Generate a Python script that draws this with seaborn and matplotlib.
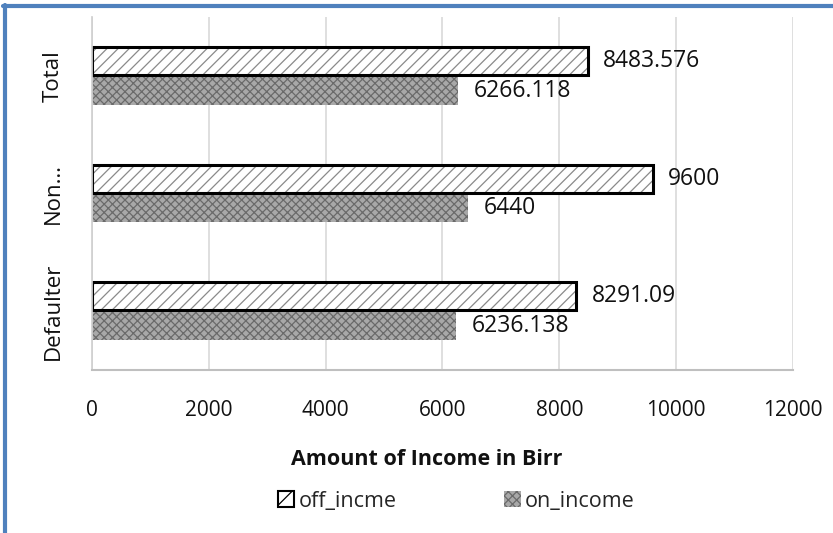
import matplotlib
matplotlib.use("Agg")
import matplotlib.pyplot as plt
from matplotlib.patches import Patch, Rectangle
from matplotlib.lines import Line2D
import seaborn as sns
import pandas as pd

categories = ["Total", "Non…", "Defaulter"]
series_names = ["off_incme", "on_income"]
off_incme = [8483.576, 9600, 8291.09]
on_income = [6266.118, 6440, 6236.138]
value_labels = {"off_incme": ["8483.576", "9600", "8291.09"],
                "on_income": ["6266.118", "6440", "6236.138"]}
x_ticks = [0, 2000, 4000, 6000, 8000, 10000, 12000]

sns.set_theme(style="white")
plt.rcParams["font.family"] = ["Open Sans", "DejaVu Sans"]
plt.rcParams["hatch.linewidth"] = 0.9

df = pd.DataFrame({
    "group": categories * 2,
    "series": [series_names[0]] * 3 + [series_names[1]] * 3,
    "value": off_incme + on_income,
})

fig = plt.figure(figsize=(8.33, 5.33), dpi=100)
ax = fig.add_axes([0.1104, 0.306, 0.8416, 0.662])

sns.barplot(data=df, y="group", x="value", hue="series", order=categories,
            hue_order=series_names, orient="h", width=0.5, gap=0.05,
            ax=ax, legend=False, errorbar=None)

off_style = dict(facecolor="white", edgecolor="#8a8a8a", hatch="///")
on_style = dict(facecolor="#a8a8a8", edgecolor="#6a6a6a", hatch="xxxx")

for cont, name, style in zip(ax.containers, series_names,
                             [off_style, on_style]):
    for bar, lab in zip(cont, value_labels[name]):
        bar.set_facecolor(style["facecolor"])
        bar.set_edgecolor(style["edgecolor"])
        bar.set_hatch(style["hatch"])
        bar.set_linewidth(0)
        if name == "off_incme":
            ax.add_patch(Rectangle(bar.get_xy(), bar.get_width(),
                                   bar.get_height(), fill=False,
                                   edgecolor="black", linewidth=2.2,
                                   zorder=bar.get_zorder() + 0.1))
        ax.annotate(lab, (bar.get_width(), bar.get_y() + bar.get_height() / 2),
                    xytext=(11, 0), textcoords="offset points",
                    va="center", ha="left", fontsize=16.5, color="#111111")

ax.set_xlim(0, 12000)
ax.set_ylim(2.5, -0.5)
ax.set_xticks(x_ticks)
ax.set_xticklabels([str(t) for t in x_ticks], fontsize=15, color="#111111")
ax.tick_params(axis="x", length=0, pad=22)
ax.tick_params(axis="y", length=0, pad=20)
for lab in ax.get_yticklabels():
    lab.set_rotation(90)
    lab.set_va("center")
    lab.set_fontsize(16)
    lab.set_color("#111111")

ax.xaxis.grid(True, color="#d9d9d9", linewidth=1.2)
ax.set_axisbelow(True)
for side in ["top", "right"]:
    ax.spines[side].set_visible(False)
ax.spines["left"].set_color("#d0d0d0")
ax.spines["bottom"].set_color("#bfbfbf")
ax.spines["bottom"].set_linewidth(1.5)
ax.set_ylabel("")
ax.set_xlabel("Amount of Income in Birr", fontsize=15.5, fontweight="bold",
              color="#111111")
ax.xaxis.set_label_coords(0.477, -0.225)

handles = [Patch(facecolor="white", edgecolor="black", hatch="//", linewidth=1.5),
           Patch(facecolor="#a8a8a8", edgecolor="#6a6a6a", hatch="xxxx", linewidth=0)]
fig.legend(handles, series_names, loc="center", bbox_to_anchor=(0.548, 0.06),
           ncol=2, frameon=False, fontsize=15.5, handlelength=0.75,
           handleheight=0.75, handletextpad=0.2, columnspacing=5.0)

# outer frame along the top and left edges
fig.add_artist(Line2D([0.006, 0.006], [0, 0.99], transform=fig.transFigure,
                      color="#4f81bd", linewidth=3))
fig.add_artist(Line2D([0.004, 1.0], [0.988, 0.988], transform=fig.transFigure,
                      color="#4f81bd", linewidth=3))

fig.savefig("out.png", dpi=100)
